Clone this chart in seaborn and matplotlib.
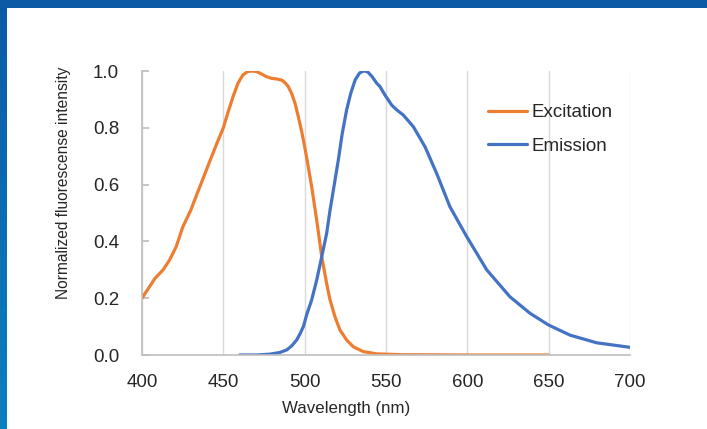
import numpy as np
import pandas as pd
import seaborn as sns
import matplotlib.pyplot as plt
from matplotlib.patches import Rectangle

# excitation spectrum
exc_wl = [400, 404, 408, 413, 417, 421, 425, 430, 434, 438, 442, 446, 450, 453,
          456, 459, 462, 465, 467.4, 470.5, 473.6, 476.6, 479.7, 482.8, 485.9,
          487.9, 489.9, 492, 494.1, 496.1, 498.2, 500.2, 502.2, 504.3, 507.4,
          510.5, 513.5, 515.6, 518.6, 521.7, 525.8, 529.9, 536, 544.3, 560,
          600, 650]
exc_val = [0.20, 0.235, 0.27, 0.30, 0.335, 0.381, 0.45, 0.51, 0.57, 0.628,
           0.687, 0.745, 0.80, 0.857, 0.91, 0.957, 0.986, 0.998, 1.0, 0.998,
           0.989, 0.98, 0.974, 0.972, 0.968, 0.959, 0.945, 0.921, 0.886, 0.839,
           0.786, 0.728, 0.663, 0.593, 0.475, 0.346, 0.252, 0.194, 0.135, 0.088,
           0.053, 0.029, 0.012, 0.004, 0.001, 0.0, 0.0]

# emission spectrum
em_wl = [460, 470.5, 478.7, 484.8, 489, 492, 495.1, 497.1, 499.2, 501.2, 504.3,
         507.4, 510.5, 513.5, 515.6, 518, 520.7, 523.1, 525.8, 528.3, 531,
         533.6, 536, 538.5, 541.2, 544.3, 546.3, 549.4, 553.5, 556.6, 560.6,
         566.8, 574, 581.1, 589.3, 599.6, 611.9, 626.2, 638.5, 649.8, 663.1,
         679.5, 700]
em_val = [0.0, 0.0, 0.003, 0.009, 0.018, 0.032, 0.053, 0.074, 0.10, 0.141,
          0.194, 0.264, 0.346, 0.428, 0.51, 0.593, 0.687, 0.78, 0.863, 0.921,
          0.968, 0.992, 1.0, 0.998, 0.982, 0.957, 0.945, 0.915, 0.88, 0.863,
          0.845, 0.804, 0.733, 0.64, 0.522, 0.417, 0.30, 0.205, 0.147, 0.106,
          0.07, 0.043, 0.027]

series_names = ['Excitation', 'Emission']
series_colors = ['#ed7d31', '#4472c4']

x_ticks = [400, 450, 500, 550, 600, 650, 700]
y_ticks = [0.0, 0.2, 0.4, 0.6, 0.8, 1.0]

df = pd.concat([
    pd.DataFrame({'wl': exc_wl, 'val': exc_val, 'series': series_names[0]}),
    pd.DataFrame({'wl': em_wl, 'val': em_val, 'series': series_names[1]}),
], ignore_index=True)

sns.set_theme(style='white')
plt.rcParams['font.family'] = ['Liberation Sans', 'DejaVu Sans']

fig = plt.figure(figsize=(7.07, 4.29), dpi=100)
ax = fig.add_axes([142 / 707, 1 - 355 / 429, 488 / 707, 284 / 429])

sns.lineplot(data=df, x='wl', y='val', hue='series', hue_order=series_names,
             palette=series_colors, sort=False, linewidth=2.3, ax=ax)

ax.set_xlim(400, 700)
ax.set_ylim(0, 1)
ax.set_xticks(x_ticks)
ax.set_yticks(y_ticks)
ax.set_yticklabels([f'{v:.1f}' for v in y_ticks])
ax.grid(axis='x', color='#d9d9d9', linewidth=1)
ax.grid(axis='y', visible=False)

for side in ['top', 'right']:
    ax.spines[side].set_visible(False)
for side in ['left', 'bottom']:
    ax.spines[side].set_color('#bfbfbf')
    ax.spines[side].set_linewidth(1.2)

ax.tick_params(axis='y', direction='in', length=5, color='#bfbfbf',
               labelsize=13.5, labelcolor='#262626', pad=16.5, left=True)
ax.tick_params(axis='x', length=0, labelsize=13.5, labelcolor='#262626', pad=14)

ax.set_xlabel('Wavelength (nm)', fontsize=12.2, color='#262626')
ax.set_ylabel('Normalized fluorescense intensity', fontsize=11.2, color='#262626')
ax.xaxis.set_label_coords(0.418, -0.163)
ax.yaxis.set_label_coords(-0.146, 0.605)

leg = ax.legend(loc='upper left', bbox_to_anchor=(0.709, 0.884), frameon=False,
                fontsize=13.5, handlelength=2.1, handletextpad=0.2,
                labelspacing=0.87, borderaxespad=0, borderpad=0)
for t in leg.get_texts():
    t.set_color('#262626')

# blue slide frame (top bar + left bar with gradient)
fig.patches.append(Rectangle((0, 1 - 8 / 429), 1, 8 / 429, transform=fig.transFigure,
                             facecolor='#0c59a5', edgecolor='none', zorder=10))
bar_ax = fig.add_axes([0, 0, 7 / 707, 1])
grad = np.linspace(0, 1, 256).reshape(-1, 1)
cmap = sns.blend_palette(['#0c59a5', '#0b80c1'], as_cmap=True)
bar_ax.imshow(grad, aspect='auto', cmap=cmap, origin='upper')
bar_ax.axis('off')

fig.savefig('out.png', dpi=100)
